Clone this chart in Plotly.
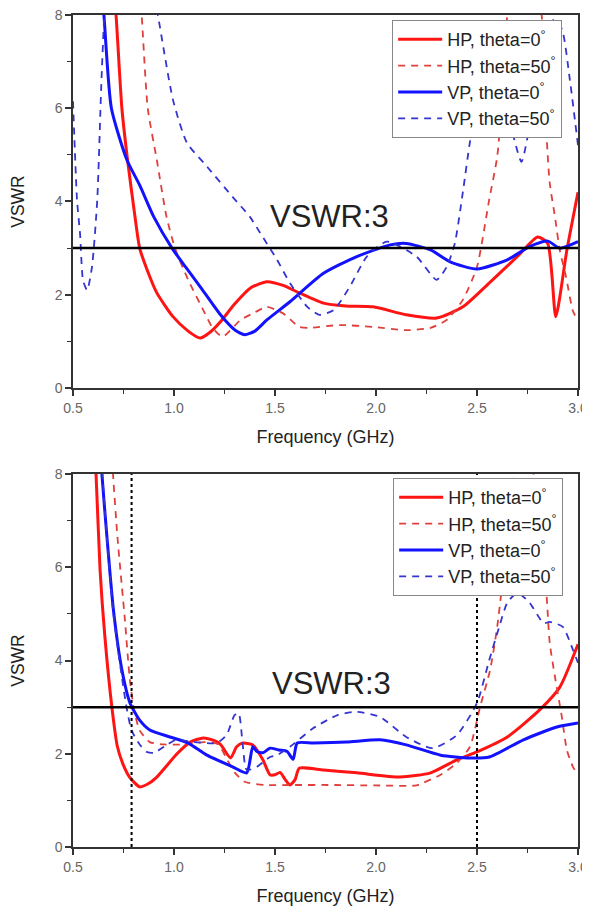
import plotly.graph_objects as go

# ---------------- data ----------------
# Top panel
top_hp0_f = [0.70, 0.713, 0.742, 0.77, 0.807, 0.83, 0.87, 0.915, 0.995, 1.07, 1.13, 1.18, 1.23, 1.30, 1.38, 1.46,
             1.54, 1.62, 1.74, 1.85, 1.985, 2.15, 2.30, 2.43, 2.56, 2.70, 2.80, 2.85, 2.89, 2.945, 3.0]
top_hp0_v = [8.6, 8.0, 6.0, 4.89, 3.67, 3.0, 2.5, 2.04, 1.53, 1.22, 1.07, 1.2, 1.42, 1.8, 2.15, 2.28,
             2.2, 2.04, 1.82, 1.76, 1.74, 1.57, 1.50, 1.74, 2.25, 2.82, 3.24, 3.1, 1.53, 2.96, 4.2]

top_hp50_f = [0.83, 0.84, 0.87, 0.915, 0.963, 1.005, 1.07, 1.145, 1.19, 1.24, 1.33, 1.40, 1.46, 1.54, 1.62, 1.67,
              1.82, 1.985, 2.15, 2.27, 2.35, 2.43, 2.50, 2.56, 2.60, 2.63, 2.65, 2.70, 2.76, 2.82, 2.846, 2.86,
              2.886, 2.91, 2.94, 2.975, 3.0]
top_hp50_v = [8.5, 8.0, 6.0, 4.89, 3.67, 3.0, 2.32, 1.67, 1.3, 1.1, 1.46, 1.62, 1.74, 1.6, 1.31, 1.29,
              1.35, 1.31, 1.24, 1.29, 1.46, 1.89, 2.6, 4.03, 4.96, 6.5, 8.0, 9.5, 9.8, 8.0, 5.3, 4.4,
              3.67, 2.95, 2.4, 1.65, 1.45]

top_vp0_f = [0.64, 0.653, 0.69, 0.767, 0.83, 0.90, 0.99, 1.06, 1.13, 1.23, 1.30, 1.35, 1.40, 1.46, 1.574, 1.74,
             1.905, 2.07, 2.15, 2.27, 2.37, 2.5, 2.65, 2.76, 2.85, 2.91, 3.0]
top_vp0_v = [8.6, 8.0, 6.0, 4.89, 4.35, 3.67, 3.0, 2.58, 2.17, 1.57, 1.25, 1.14, 1.22, 1.46, 1.85, 2.46,
             2.82, 3.07, 3.1, 2.96, 2.7, 2.55, 2.75, 3.03, 3.15, 3.0, 3.14]

top_vp50_f = [0.5, 0.52, 0.535, 0.55, 0.57, 0.594, 0.62, 0.64, 0.655, 0.68, 0.75, 0.85, 0.92, 0.995, 1.064, 1.163,
              1.29, 1.376, 1.426, 1.51, 1.574, 1.66, 1.72, 1.79, 1.87, 1.955, 2.054, 2.2, 2.30, 2.35, 2.39, 2.43,
              2.466, 2.52, 2.58, 2.64, 2.68, 2.72, 2.76, 2.82, 2.88, 2.92, 2.96, 3.0]
top_vp50_v = [6.15, 4.03, 3.3, 2.3, 2.1, 2.6, 4.03, 6.5, 8.0, 9.5, 10.5, 9.6, 8.0, 6.18, 5.26, 4.75,
              4.1, 3.67, 3.33, 2.75, 2.25, 1.74, 1.57, 1.67, 2.17, 2.82, 3.14, 2.82, 2.32, 2.6, 3.1, 4.2,
              5.3, 6.5, 7.2, 6.0, 5.4, 4.85, 5.6, 7.0, 7.9, 7.7, 6.6, 5.2]

# Bottom panel
bot_hp0_f = [0.605, 0.614, 0.634, 0.658, 0.693, 0.72, 0.75, 0.78, 0.83, 0.87, 0.915, 1.015, 1.08, 1.145, 1.20, 1.23,
             1.28, 1.31, 1.34, 1.39, 1.44, 1.475, 1.50, 1.525, 1.55, 1.574, 1.60, 1.62, 1.74, 1.905, 2.12, 2.27,
             2.40, 2.5, 2.65, 2.81, 2.91, 3.0]
bot_hp0_v = [8.6, 8.0, 5.94, 4.5, 2.98, 2.15, 1.75, 1.5, 1.29, 1.35, 1.5, 2.0, 2.25, 2.34, 2.28, 2.2,
             1.91, 2.15, 2.23, 2.19, 1.87, 1.55, 1.55, 1.6, 1.45, 1.33, 1.45, 1.69, 1.65, 1.59, 1.5, 1.59,
             1.87, 2.04, 2.36, 2.94, 3.43, 4.35]

bot_hp50_f = [0.69, 0.698, 0.72, 0.757, 0.78, 0.80, 0.83, 0.88, 0.95, 1.05, 1.15, 1.22, 1.26, 1.30, 1.35, 1.45,
              1.574, 1.80, 2.0, 2.2, 2.23, 2.32, 2.40, 2.465, 2.515, 2.565, 2.60, 2.62, 2.66, 2.72, 2.78, 2.82,
              2.845, 2.86, 2.886, 2.92, 2.945, 2.975, 3.0]
bot_hp50_v = [8.6, 8.0, 6.65, 4.87, 3.65, 3.0, 2.5, 2.25, 2.2, 2.2, 2.25, 2.2, 1.9, 1.6, 1.4, 1.33,
              1.33, 1.33, 1.32, 1.32, 1.37, 1.55, 1.8, 2.15, 3.0, 3.8, 4.72, 5.45, 7.5, 8.3, 8.0, 6.8,
              5.37, 4.38, 3.65, 2.79, 2.08, 1.72, 1.55]

bot_vp0_f = [0.635, 0.643, 0.668, 0.70, 0.742, 0.782, 0.83, 0.88, 0.98, 1.07, 1.163, 1.29, 1.36, 1.39, 1.41, 1.44,
             1.475, 1.52, 1.56, 1.59, 1.61, 1.69, 1.855, 2.02, 2.15, 2.32, 2.465, 2.56, 2.73, 2.9, 3.0]
bot_vp0_v = [8.6, 8.0, 6.65, 5.09, 3.8, 3.09, 2.72, 2.51, 2.36, 2.23, 1.97, 1.72, 1.59, 2.15, 2.05, 2.02,
             2.12, 2.08, 2.05, 1.88, 2.23, 2.23, 2.25, 2.3, 2.19, 1.97, 1.91, 1.93, 2.3, 2.58, 2.66]

bot_vp50_f = [0.635, 0.645, 0.67, 0.70, 0.74, 0.765, 0.79, 0.83, 0.865, 0.9, 0.965, 1.01, 1.1, 1.21, 1.26, 1.30,
              1.32, 1.34, 1.36, 1.41, 1.475, 1.51, 1.574, 1.69, 1.81, 1.905, 2.02, 2.15, 2.28, 2.40, 2.5, 2.56,
              2.61, 2.65, 2.70, 2.76, 2.83, 2.86, 2.925, 2.975, 3.0]
bot_vp50_v = [8.6, 8.0, 6.5, 5.0, 3.7, 3.0, 2.5, 2.2, 2.04, 2.02, 2.19, 2.3, 2.25, 2.23, 2.4, 2.83,
              2.87, 2.2, 1.65, 1.72, 1.93, 1.97, 2.15, 2.55, 2.83, 2.9, 2.79, 2.36, 2.12, 2.4, 3.09, 4.0,
              4.72, 5.24, 5.45, 5.24, 4.8, 4.83, 4.72, 4.23, 3.95]

vswr_limit = 3.0
band_edges = [0.79, 2.5]
x_range = [0.5, 3.0]
y_range = [0, 8]
x_ticks = [0.5, 1.0, 1.5, 2.0, 2.5, 3.0]
x_ticktext = ["0.5", "1.0", "1.5", "2.0", "2.5", "3.0"]
y_ticks = [0, 2, 4, 6, 8]
names = ["HP, theta=0<sup>°</sup>", "HP, theta=50<sup>°</sup>", "VP, theta=0<sup>°</sup>", "VP, theta=50<sup>°</sup>"]

# ---------------- styles ----------------
RED = "#ff1414"
RED_D = "#e0403c"
BLUE = "#1212ff"
BLUE_D = "#3434d0"
DASH = "7px,6px"
FONT = "Liberation Sans, Arial, sans-serif"

fig = go.Figure()

def add(x, y, name, color, width, dash, xa, ya, legend, grp):
    fig.add_trace(go.Scatter(
        x=x, y=y, mode="lines", name=name,
        line=dict(color=color, width=width, dash=dash, shape="spline", smoothing=0.6),
        xaxis=xa, yaxis=ya, legend=legend, legendgroup=grp))

panels = [
    ("x", "y", "legend", [(top_hp0_f, top_hp0_v), (top_hp50_f, top_hp50_v), (top_vp0_f, top_vp0_v), (top_vp50_f, top_vp50_v)]),
    ("x2", "y2", "legend2", [(bot_hp0_f, bot_hp0_v), (bot_hp50_f, bot_hp50_v), (bot_vp0_f, bot_vp0_v), (bot_vp50_f, bot_vp50_v)]),
]
styles = [(RED, 3, "solid"), (RED_D, 1.8, DASH), (BLUE, 3, "solid"), (BLUE_D, 1.8, DASH)]

for xa, ya, lg, series in panels:
    for i, ((fx, fv), (c, w, d)) in enumerate(zip(series, styles)):
        add(fx, fv, names[i], c, w, d, xa, ya, lg, lg + str(i))
    # VSWR = 3 reference line
    fig.add_trace(go.Scatter(x=x_range, y=[vswr_limit, vswr_limit], mode="lines",
                             line=dict(color="black", width=2.5), showlegend=False,
                             xaxis=xa, yaxis=ya, hoverinfo="skip"))

# dotted band edges (bottom panel)
for be in band_edges:
    fig.add_trace(go.Scatter(x=[be, be], y=y_range, mode="lines",
                             line=dict(color="black", width=2, dash="dot"), showlegend=False,
                             xaxis="x2", yaxis="y2", hoverinfo="skip"))

axis_common = dict(showgrid=False, zeroline=False, showline=True, linecolor="#333", linewidth=1.5,
                   mirror=True, ticks="outside", ticklen=6, tickwidth=1.5, tickcolor="#333",
                   automargin=False, ticklabeloverflow="allow",
                   tickfont=dict(family=FONT, size=14, color="#666"))

xa_kw = dict(axis_common, range=x_range, tickvals=x_ticks, ticktext=x_ticktext,
             minor=dict(ticks="outside", ticklen=4, tickwidth=1.2, tickcolor="#333", dtick=0.25, tick0=0.5),
             title=dict(text="Frequency (GHz)", font=dict(family=FONT, size=18, color="#222"), standoff=16))
ya_kw = dict(axis_common, range=y_range, tickvals=y_ticks, ticksuffix="\u00a0\u00a0\u00a0",
             minor=dict(ticks="outside", ticklen=4, tickwidth=1.2, tickcolor="#333", dtick=1, tick0=0),
             title=dict(text="VSWR", font=dict(family=FONT, size=17.5, color="#222"), standoff=27))

legend_common = dict(bgcolor="white", bordercolor="#888", borderwidth=1,
                     font=dict(family=FONT, size=18, color="#222"), xanchor="left", yanchor="top",
                     tracegroupgap=0, itemwidth=44)

fig.update_layout(
    width=590, height=910,
    margin=dict(l=65, r=20, t=7, b=71),
    paper_bgcolor="white", plot_bgcolor="white",
    xaxis=dict(xa_kw, domain=[0, 1], anchor="y"),
    yaxis=dict(ya_kw, domain=[0.5517, 1], anchor="x"),
    xaxis2=dict(xa_kw, domain=[0, 1], anchor="y2"),
    yaxis2=dict(ya_kw, domain=[0, 0.4483], anchor="x2"),
    legend=dict(legend_common, x=0.632, y=0.994),
    legend2=dict(legend_common, x=0.634, y=0.4435),
    annotations=[
        dict(text="VSWR:3", x=1.77, y=3.67, xref="x", yref="y", showarrow=False,
             font=dict(family=FONT, size=31, color="#222")),
        dict(text="VSWR:3", x=1.78, y=3.5, xref="x2", yref="y2", showarrow=False,
             font=dict(family=FONT, size=31, color="#222")),
    ],
    showlegend=True,
)

fig.write_html("out.html")
